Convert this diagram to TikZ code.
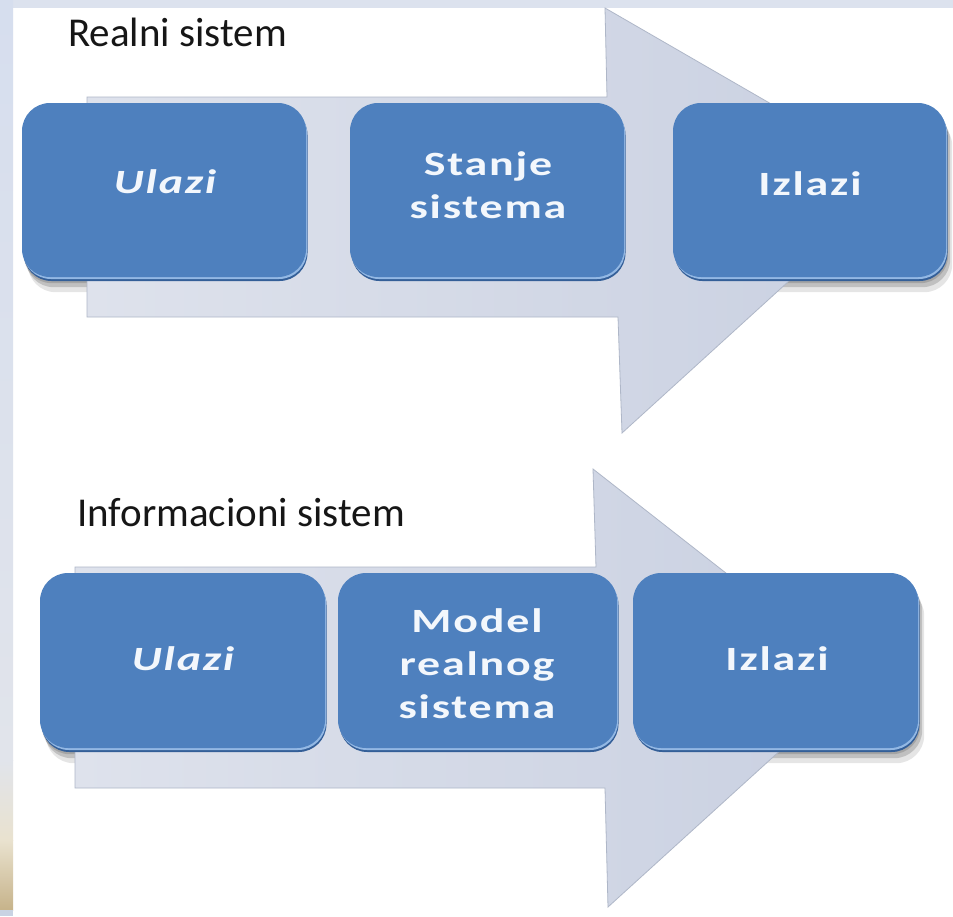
\documentclass[tikz,border=0pt]{standalone}
\usepackage{fontspec}
\usepackage{graphicx}
\setmainfont{Carlito}
\newfontfamily\labelfont[LetterSpace=4]{Carlito}

\definecolor{bandblue}{HTML}{DCE2EE}
\definecolor{stripA}{HTML}{D6DEEE}
\definecolor{stripB}{HTML}{E1E4EB}
\definecolor{stripC}{HTML}{E9E2CF}
\definecolor{stripD}{HTML}{C6B38A}
\definecolor{stripE}{HTML}{C9D3E3}
\definecolor{boxblue}{HTML}{4E80BE}
\definecolor{boxdark}{HTML}{345F98}
\definecolor{boxlight}{HTML}{93B8E4}
\definecolor{arrowleft}{HTML}{DEE2EC}
\definecolor{arrowright}{HTML}{C9D0E1}
\definecolor{arrowedge}{HTML}{AFB7C8}
\definecolor{labelwhite}{HTML}{F3F7FC}
\definecolor{titleblack}{HTML}{161616}

\pgfdeclarelayer{bg}
\pgfdeclarelayer{shadowlayer}
\pgfdeclarelayer{arrowlayer}
\pgfsetlayers{bg,shadowlayer,arrowlayer,main}

\newcommand\boxlabel[1]{\scalebox{1.35}[1]{\begin{tabular}[t]{@{}c@{}}#1\end{tabular}}}

\tikzset{
  bluebox/.style={rectangle, rounded corners=28pt, draw=none, fill=boxblue,
    inner sep=0pt,
    preaction={fill=boxdark, transform canvas={shift={(1.5pt,-4pt)}}},
    preaction={fill=boxlight, transform canvas={shift={(1pt,-2pt)}}}},
  boxtext/.style={anchor=base, inner sep=0pt, text=labelwhite,
    font=\labelfont\bfseries\fontsize{34}{43}\selectfont},
  italictext/.style={boxtext, font=\labelfont\bfseries\itshape\fontsize{34}{43}\selectfont},
  titletext/.style={anchor=base west, inner sep=0pt, text=titleblack,
    font=\fontsize{41}{48}\selectfont},
  boxshadow/.style={rounded corners=28pt, fill=black, opacity=#1},
  flowarrow/.style={left color=arrowleft, right color=arrowright,
    draw=arrowedge, line width=0.8pt, line join=miter}
}

\begin{document}
\begin{tikzpicture}[x=1pt, y=-1pt]
  \useasboundingbox (0,0) rectangle (953,916);

  % page background with the slide's top band and left strip
  \begin{pgfonlayer}{bg}
    \fill[white] (0,0) rectangle (953,916);
    \fill[bandblue] (0,0) rectangle (953,8);
    \shade[top color=stripA, bottom color=stripB] (0,0) rectangle (13,760);
    \shade[top color=stripB, bottom color=stripC] (0,760) rectangle (13,840);
    \shade[top color=stripC, bottom color=stripD] (0,840) rectangle (13,910);
    \fill[stripE] (0,910) rectangle (13,916);
  \end{pgfonlayer}

  % titles
  \node[titletext] (t1) at (68,46) {Realni sistem};
  \node[titletext] (t2) at (77,526) {Informacioni sistem};

  % upper row of boxes
  \node[bluebox, minimum width=284pt, minimum height=174pt] (r1) at (164,190) {};
  \node[bluebox, minimum width=274pt, minimum height=174pt] (r2) at (487,190) {};
  \node[bluebox, minimum width=273pt, minimum height=174pt] (r3) at (809.5,190) {};

  % lower row of boxes
  \node[bluebox, minimum width=285pt, minimum height=175pt] (b1) at (182.5,660.5) {};
  \node[bluebox, minimum width=279pt, minimum height=175pt] (b2) at (477.5,660.5) {};
  \node[bluebox, minimum width=285pt, minimum height=175pt] (b3) at (775.5,660.5) {};

  % box labels
  \node[italictext] (lr1) at (165,193) {\boxlabel{Ulazi}};
  \node[boxtext] (lr2) at (488,175) {\boxlabel{Stanje\\sistema}};
  \node[boxtext] (lr3) at (810,195) {\boxlabel{Izlazi}};
  \node[italictext] (lb1) at (183,670) {\boxlabel{Ulazi}};
  \node[boxtext] (lb2) at (477,632) {\boxlabel{Model\\realnog\\sistema}};
  \node[boxtext] (lb3) at (777,670) {\boxlabel{Izlazi}};

  % soft shadows cast by the boxes
  \begin{pgfonlayer}{shadowlayer}
    \foreach \b in {r1,r2,r3,b1,b2,b3}{
      \fill[boxshadow=0.10] ([shift={(6,15)}]\b.north west) rectangle ([shift={(6,15)}]\b.south east);
      \fill[boxshadow=0.16] ([shift={(4,10)}]\b.north west) rectangle ([shift={(4,10)}]\b.south east);
      \fill[boxshadow=0.14] ([shift={(2,6)}]\b.north west) rectangle ([shift={(2,6)}]\b.south east);
    }
  \end{pgfonlayer}

  % the two block arrows behind the boxes
  \begin{pgfonlayer}{arrowlayer}
    \path[flowarrow] (87,97) -- (607,97) -- (605,8) -- (901,179) -- (622,433)
      -- (618,317) -- (87,317) -- cycle;
    \path[flowarrow] (75,567) -- (596,567) -- (593,469) -- (860,678) -- (608,907)
      -- (605,788) -- (75,788) -- cycle;
  \end{pgfonlayer}
\end{tikzpicture}
\end{document}
